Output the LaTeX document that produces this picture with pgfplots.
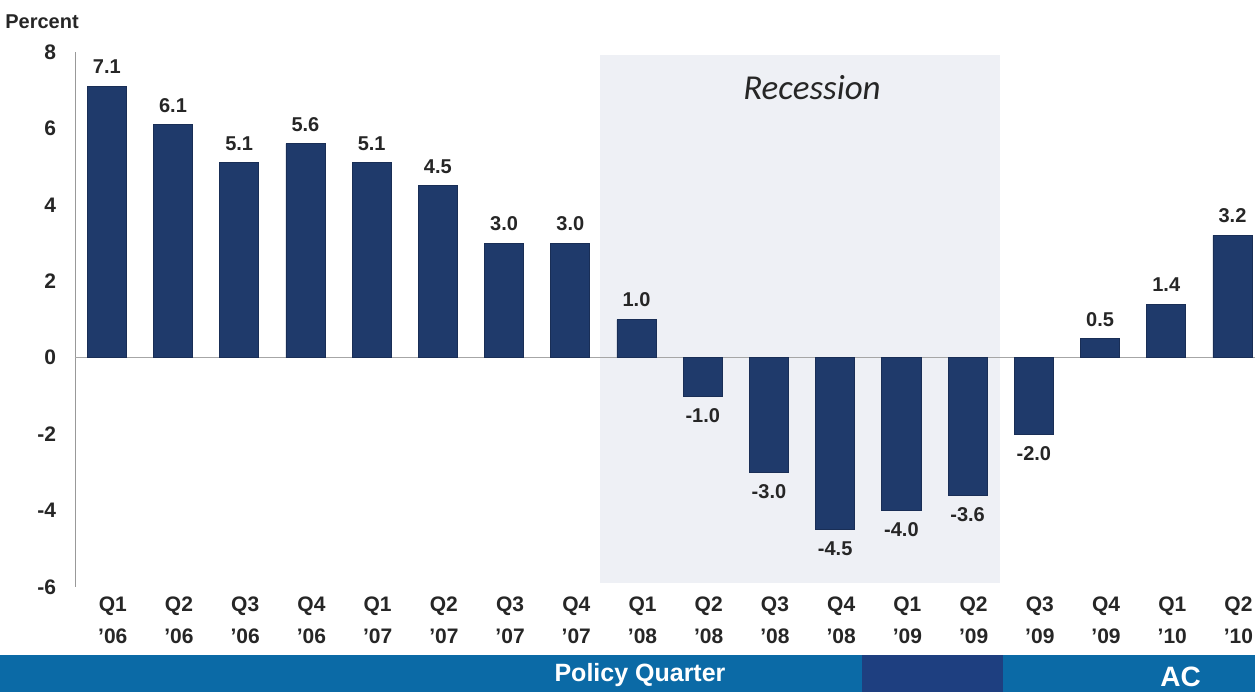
\documentclass[border=0pt]{standalone}
\usepackage{fontspec}
\setmainfont{Liberation Sans}
\newfontfamily\carlito{Carlito}
\usepackage{pgfplots}
\pgfplotsset{compat=1.18}
\definecolor{barblue}{HTML}{1F3A6B}
\definecolor{recess}{HTML}{EEF0F5}
\definecolor{banner}{HTML}{0B6AA6}
\definecolor{bannerdark}{HTML}{1E3F80}
\definecolor{txt}{HTML}{262626}
\begin{document}
\begin{tikzpicture}[x=0.5pt,y=0.5pt]
\useasboundingbox (0,0) rectangle (1255,692);
\clip (0,0) rectangle (1255,692);
\fill[banner] (0,0) rectangle (1255,37);
\fill[bannerdark] (862,0) rectangle (1003,37);
\node[white,font=\bfseries\fontsize{12.5}{14}\selectfont] at (640,17) {Policy Quarter};
\node[white,font=\bfseries\fontsize{14}{14}\selectfont,anchor=base west,inner sep=0pt] at (1160,5) {AC};
\node[text=txt,font=\bfseries\fontsize{10}{12}\selectfont] at (42,670) {Percent};
\begin{axis}[
  at={(37.5pt,52.5pt)}, anchor=south west,
  scale only axis, width=590pt, height=267.5pt,
  xmin=-0.48, xmax=17.34, ymin=-6, ymax=8,
  ytick={-6,-4,...,8},
  xtick={0,...,17},
  xticklabels={{Q1\\'06},{Q2\\'06},{Q3\\'06},{Q4\\'06},{Q1\\'07},{Q2\\'07},{Q3\\'07},{Q4\\'07},{Q1\\'08},{Q2\\'08},{Q3\\'08},{Q4\\'08},{Q1\\'09},{Q2\\'09},{Q3\\'09},{Q4\\'09},{Q1\\'10},{Q2\\'10}},
  axis line style={draw=none},
  major tick length=0pt,
  tick label style={font=\bfseries\fontsize{10.5}{16}\selectfont, text=txt},
  xticklabel style={align=center, xshift=3pt, yshift=-1.5pt},
  yticklabel style={xshift=-6pt},
  /pgf/number format/assume math mode=true,
  ybar, bar width=0.59,
  nodes near coords={\pgfmathprintnumber[fixed,fixed zerofill,precision=1]{\pgfplotspointmeta}},
  nodes near coords style={font=\bfseries\fontsize{10}{12}\selectfont, text=txt, inner sep=6pt},
  clip=false,
]
\fill[recess] (axis cs:7.45,7.93) rectangle (axis cs:13.49,-5.89);
\draw[gray!80] (axis cs:-0.48,8) -- (axis cs:-0.48,-6);
\draw[gray!70] (axis cs:-0.48,0) -- (axis cs:17.34,0);
\node[font=\carlito\itshape\fontsize{17.5}{20}\selectfont, text=txt] at (axis cs:10.65,7.07) {Recession};
\addplot[fill=barblue, draw=barblue!80!black] coordinates {
(0,7.1) (1,6.1) (2,5.1) (3,5.6) (4,5.1) (5,4.5) (6,3.0) (7,3.0) (8,1.0)
(9,-1.0) (10,-3.0) (11,-4.5) (12,-4.0) (13,-3.6) (14,-2.0) (15,0.5) (16,1.4) (17,3.2)
};
\end{axis}
\end{tikzpicture}
\end{document}
